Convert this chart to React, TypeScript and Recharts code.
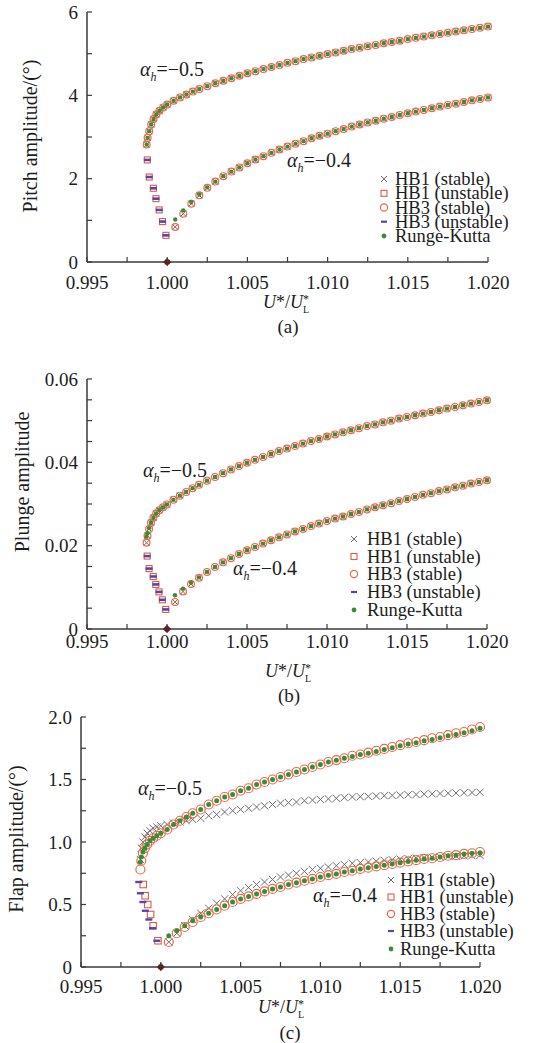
import React from 'react';
import { ScatterChart, Scatter, XAxis, YAxis } from 'recharts';

const FONT = '"Liberation Serif", "Times New Roman", serif';
const AXIS = '#3a3a3a';
const TEXT = '#1c1c1c';
const C_HB1S = '#6e6e6e';
const C_HB1U = '#dc5a4a';
const C_HB3S = '#ee6848';
const C_HB3U = '#5646a8';
const C_RK = '#3a8c3a';
const C_BIF = '#5a2020';

// ---------- shared axis ticks ----------
const xTicks = [0.995, 0.9975, 1.0, 1.0025, 1.005, 1.0075, 1.01, 1.0125, 1.015, 1.0175, 1.02];
const xTickLabels = ['0.995', '', '1.000', '', '1.005', '', '1.010', '', '1.015', '', '1.020'];

const aYTicks = [0, 1, 2, 3, 4, 5, 6];
const aYLabels = ['0', '', '2', '', '4', '', '6'];
const bYTicks = [0, 0.005, 0.01, 0.015, 0.02, 0.025, 0.03, 0.035, 0.04, 0.045, 0.05, 0.055, 0.06];
const bYLabels = ['0', '', '', '', '0.02', '', '', '', '0.04', '', '', '', '0.06'];
const cYTicks = [0, 0.25, 0.5, 0.75, 1.0, 1.25, 1.5, 1.75, 2.0];
const cYLabels = ['0', '', '0.5', '', '1.0', '', '1.5', '', '2.0'];

// ---------- speed ratio values (U*/U*_L) ----------
const upX = [0.99872, 0.99878, 0.99888, 0.999, 0.99915, 0.99932, 0.99952, 0.99975, 1.0, 1.0004,
  1.0008, 1.0012, 1.0016, 1.002, 1.0025, 1.003, 1.0035, 1.004, 1.0045, 1.005,
  1.0055, 1.006, 1.0065, 1.007, 1.0075, 1.008, 1.0085, 1.009, 1.0095, 1.01,
  1.0105, 1.011, 1.0115, 1.012, 1.0125, 1.013, 1.0135, 1.014, 1.0145, 1.015,
  1.0155, 1.016, 1.0165, 1.017, 1.0175, 1.018, 1.0185, 1.019, 1.0195, 1.02];
const lowX = [1.0005, 1.001, 1.0015, 1.002, 1.0025, 1.003, 1.0035, 1.004, 1.0045, 1.005,
  1.0055, 1.006, 1.0065, 1.007, 1.0075, 1.008, 1.0085, 1.009, 1.0095, 1.01,
  1.0105, 1.011, 1.0115, 1.012, 1.0125, 1.013, 1.0135, 1.014, 1.0145, 1.015,
  1.0155, 1.016, 1.0165, 1.017, 1.0175, 1.018, 1.0185, 1.019, 1.0195, 1.02];
const unstX = [0.99876, 0.99888, 0.99914, 0.9993, 0.9995, 0.99971, 0.99992];
const bifX = [1.0];
const bifY = [0];

// ---------- (a) pitch amplitude ----------
const aUpY = [2.82, 2.98, 3.14, 3.30, 3.43, 3.54, 3.63, 3.71, 3.78, 3.87,
  3.95, 4.02, 4.09, 4.15, 4.22, 4.29, 4.35, 4.41, 4.47, 4.53,
  4.58, 4.63, 4.68, 4.73, 4.78, 4.82, 4.87, 4.91, 4.95, 4.99,
  5.03, 5.07, 5.11, 5.14, 5.18, 5.21, 5.25, 5.28, 5.31, 5.35,
  5.38, 5.41, 5.44, 5.47, 5.50, 5.53, 5.56, 5.59, 5.62, 5.65];
const aLowY = [0.84, 1.16, 1.40, 1.60, 1.78, 1.93, 2.06, 2.17, 2.27, 2.37,
  2.46, 2.54, 2.62, 2.70, 2.77, 2.84, 2.90, 2.97, 3.03, 3.08,
  3.14, 3.19, 3.25, 3.30, 3.35, 3.39, 3.44, 3.48, 3.53, 3.57,
  3.61, 3.65, 3.69, 3.73, 3.77, 3.80, 3.84, 3.88, 3.91, 3.95];
const aLowRkY = [1.02, 1.24, 1.44, 1.62, 1.79, 1.93, 2.06, 2.17, 2.27, 2.37,
  2.46, 2.54, 2.62, 2.70, 2.77, 2.84, 2.90, 2.97, 3.03, 3.08,
  3.14, 3.19, 3.25, 3.30, 3.35, 3.39, 3.44, 3.48, 3.53, 3.57,
  3.61, 3.65, 3.69, 3.73, 3.77, 3.80, 3.84, 3.88, 3.91, 3.95];
const aUnstY = [2.45, 2.04, 1.77, 1.52, 1.25, 0.97, 0.64];

// ---------- (b) plunge amplitude ----------
const bUpY = [0.0207, 0.0224, 0.0240, 0.0255, 0.0267, 0.0277, 0.0285, 0.0292, 0.0299, 0.0310,
  0.0320, 0.0329, 0.0338, 0.0346, 0.0356, 0.0365, 0.0374, 0.0383, 0.0391, 0.0399,
  0.0406, 0.0413, 0.0420, 0.0427, 0.0433, 0.0439, 0.0445, 0.0451, 0.0456, 0.0462,
  0.0467, 0.0472, 0.0477, 0.0482, 0.0487, 0.0491, 0.0496, 0.0500, 0.0505, 0.0509,
  0.0513, 0.0517, 0.0521, 0.0525, 0.0529, 0.0533, 0.0537, 0.0541, 0.0545, 0.0549];
const bUpRkY = [0.0222, 0.0230, 0.0242, 0.0255, 0.0267, 0.0277, 0.0285, 0.0292, 0.0299, 0.0310,
  0.0320, 0.0329, 0.0338, 0.0346, 0.0356, 0.0365, 0.0374, 0.0383, 0.0391, 0.0399,
  0.0406, 0.0413, 0.0420, 0.0427, 0.0433, 0.0439, 0.0445, 0.0451, 0.0456, 0.0462,
  0.0467, 0.0472, 0.0477, 0.0482, 0.0487, 0.0491, 0.0496, 0.0500, 0.0505, 0.0509,
  0.0513, 0.0517, 0.0521, 0.0525, 0.0529, 0.0533, 0.0537, 0.0541, 0.0545, 0.0549];
const bLowY = [0.0065, 0.0090, 0.0108, 0.0123, 0.0137, 0.0149, 0.0160, 0.0170, 0.0180, 0.0189,
  0.0197, 0.0205, 0.0213, 0.0220, 0.0227, 0.0234, 0.0240, 0.0247, 0.0253, 0.0259,
  0.0265, 0.0270, 0.0276, 0.0281, 0.0287, 0.0292, 0.0297, 0.0302, 0.0307, 0.0312,
  0.0317, 0.0322, 0.0326, 0.0331, 0.0335, 0.0340, 0.0344, 0.0349, 0.0353, 0.0357];
const bLowRkY = [0.0081, 0.0097, 0.0111, 0.0124, 0.0137, 0.0149, 0.0160, 0.0170, 0.0180, 0.0189,
  0.0197, 0.0205, 0.0213, 0.0220, 0.0227, 0.0234, 0.0240, 0.0247, 0.0253, 0.0259,
  0.0265, 0.0270, 0.0276, 0.0281, 0.0287, 0.0292, 0.0297, 0.0302, 0.0307, 0.0312,
  0.0317, 0.0322, 0.0326, 0.0331, 0.0335, 0.0340, 0.0344, 0.0349, 0.0353, 0.0357];
const bUnstY = [0.0175, 0.0145, 0.0126, 0.0107, 0.0089, 0.0070, 0.0047];

// ---------- (c) flap amplitude ----------
const cUpHb3Y = [0.78, 0.85, 0.91, 0.95, 0.98, 1.01, 1.03, 1.05, 1.07, 1.10,
  1.14, 1.17, 1.20, 1.23, 1.26, 1.30, 1.33, 1.36, 1.38, 1.41,
  1.43, 1.46, 1.48, 1.50, 1.52, 1.54, 1.56, 1.58, 1.60, 1.62,
  1.64, 1.655, 1.67, 1.69, 1.70, 1.715, 1.73, 1.745, 1.76, 1.775,
  1.79, 1.80, 1.815, 1.83, 1.84, 1.855, 1.87, 1.88, 1.90, 1.92];
const cUpRkY = [0.84, 0.88, 0.92, 0.95, 0.98, 1.01, 1.03, 1.05, 1.07, 1.10,
  1.14, 1.17, 1.20, 1.23, 1.26, 1.30, 1.33, 1.36, 1.38, 1.41,
  1.43, 1.46, 1.48, 1.50, 1.52, 1.54, 1.56, 1.58, 1.60, 1.62,
  1.64, 1.655, 1.67, 1.685, 1.70, 1.71, 1.725, 1.74, 1.755, 1.77,
  1.785, 1.795, 1.81, 1.82, 1.835, 1.85, 1.86, 1.875, 1.89, 1.91];
const cUpHb1Y = [0.86, 0.95, 1.00, 1.04, 1.07, 1.09, 1.11, 1.12, 1.13, 1.14,
  1.15, 1.16, 1.17, 1.18, 1.19, 1.21, 1.22, 1.24, 1.25, 1.26,
  1.27, 1.28, 1.29, 1.30, 1.31, 1.315, 1.32, 1.33, 1.335, 1.34,
  1.345, 1.35, 1.355, 1.36, 1.362, 1.365, 1.368, 1.37, 1.373, 1.375,
  1.378, 1.38, 1.383, 1.385, 1.388, 1.39, 1.392, 1.394, 1.396, 1.398];
const cLowHb3Y = [0.20, 0.27, 0.32, 0.36, 0.40, 0.43, 0.46, 0.49, 0.52, 0.545,
  0.565, 0.585, 0.605, 0.625, 0.64, 0.66, 0.675, 0.69, 0.705, 0.72,
  0.735, 0.745, 0.76, 0.77, 0.785, 0.795, 0.805, 0.815, 0.825, 0.835,
  0.845, 0.855, 0.865, 0.87, 0.88, 0.89, 0.895, 0.905, 0.91, 0.92];
const cLowRkY = [0.25, 0.29, 0.33, 0.37, 0.40, 0.43, 0.46, 0.49, 0.52, 0.545,
  0.565, 0.585, 0.605, 0.625, 0.64, 0.66, 0.675, 0.69, 0.705, 0.72,
  0.735, 0.745, 0.76, 0.77, 0.785, 0.795, 0.805, 0.815, 0.825, 0.835,
  0.845, 0.855, 0.865, 0.87, 0.88, 0.89, 0.895, 0.905, 0.91, 0.915];
const cLowHb1Y = [0.20, 0.27, 0.33, 0.38, 0.43, 0.47, 0.51, 0.545, 0.58, 0.61,
  0.635, 0.66, 0.68, 0.70, 0.72, 0.735, 0.75, 0.765, 0.78, 0.79,
  0.80, 0.81, 0.82, 0.83, 0.835, 0.84, 0.847, 0.853, 0.858, 0.863,
  0.867, 0.871, 0.875, 0.878, 0.881, 0.884, 0.887, 0.889, 0.891, 0.893];
const cUnstHb3X = [0.99862, 0.99872, 0.99888, 0.99903, 0.99925, 0.99948, 0.99975];
const cUnstHb3Y = [0.68, 0.59, 0.52, 0.45, 0.38, 0.31, 0.21];
const cUnstHb1X = [0.9989, 0.99902, 0.99918, 0.99936, 0.99952, 0.99982];
const cUnstHb1Y = [0.66, 0.57, 0.50, 0.42, 0.33, 0.21];

const legendNames = ['HB1 (stable)', 'HB1 (unstable)', 'HB3 (stable)', 'HB3 (unstable)', 'Runge-Kutta'];

type Kind = 'cross' | 'square' | 'circle' | 'dash' | 'rk' | 'bif';
const legendKinds: Kind[] = ['cross', 'square', 'circle', 'dash', 'rk'];
type Sizes = { cross: number; square: number; circle: number; dashW: number; dashH: number; rk: number };
type Pt = { x: number; y: number };
type SeriesDef = { kind: Kind; pts: Pt[] };

const pts = (xs: number[], ys: number[]): Pt[] => xs.map((x, i) => ({ x, y: ys[i] }));

function drawMarker(kind: Kind, cx: number, cy: number, sz: Sizes) {
  if (cx == null || cy == null || isNaN(cx) || isNaN(cy)) return <g />;
  switch (kind) {
    case 'cross': {
      const s = sz.cross;
      return <path d={`M${cx - s},${cy - s}L${cx + s},${cy + s}M${cx - s},${cy + s}L${cx + s},${cy - s}`} stroke={C_HB1S} strokeWidth={1} fill="none" />;
    }
    case 'square': {
      const s = sz.square;
      return <rect x={cx - s / 2} y={cy - s / 2} width={s} height={s} stroke={C_HB1U} strokeWidth={1.1} fill="none" />;
    }
    case 'circle':
      return <circle cx={cx} cy={cy} r={sz.circle} stroke={C_HB3S} strokeWidth={1.2} fill="none" />;
    case 'dash':
      return <rect x={cx - sz.dashW / 2} y={cy - sz.dashH / 2} width={sz.dashW} height={sz.dashH} fill={C_HB3U} />;
    case 'rk':
      return <circle cx={cx} cy={cy} r={sz.rk} fill={C_RK} />;
    default:
      return (
        <g>
          <circle cx={cx} cy={cy} r={3} fill={C_BIF} />
          <path d={`M${cx - 4},${cy}L${cx + 4},${cy}M${cx},${cy - 4}L${cx},${cy + 4}`} stroke={C_BIF} strokeWidth={1.2} />
        </g>
      );
  }
}

const makeXTick = (gap: number) => (p: any) => {
  const { x, y, index } = p;
  const lab = xTickLabels[index] || '';
  return (
    <g>
      <line x1={x} x2={x} y1={y} y2={y - 5} stroke={AXIS} strokeWidth={1.2} />
      {lab ? (
        <text x={x} y={y + gap} textAnchor="middle" fontFamily={FONT} fontSize={19} fill={TEXT}>{lab}</text>
      ) : null}
    </g>
  );
};

const makeYTick = (labels: string[]) => (p: any) => {
  const { x, y, index } = p;
  const lab = labels[index] || '';
  return (
    <g>
      <line x1={x} x2={x + 5} y1={y} y2={y} stroke={AXIS} strokeWidth={1.2} />
      {lab ? (
        <text x={x - 9} y={y} dy="0.35em" textAnchor="end" fontFamily={FONT} fontSize={19} fill={TEXT}>{lab}</text>
      ) : null}
    </g>
  );
};

type PanelProps = {
  top: number; height: number; left: number; right: number; plotTop: number; plotBottom: number;
  yDomain: [number, number]; yTicks: number[]; yLabels: string[]; xGap: number; sz: Sizes; series: SeriesDef[];
};

function Panel(props: PanelProps) {
  const { top, height, left, right, plotTop, plotBottom, sz } = props;
  const margin = { top: plotTop - top, left: left - 40, right: 545 - right, bottom: top + height - plotBottom - 30 };
  return (
    <div style={{ position: 'absolute', left: 0, top, width: 545, height }}>
      <ScatterChart width={545} height={height} margin={margin}>
        <XAxis type="number" dataKey="x" domain={[0.995, 1.02]} ticks={xTicks} interval={0} height={30}
          tickSize={0} tickMargin={0} tickLine={false} axisLine={{ stroke: AXIS, strokeWidth: 1.5 }}
          tick={makeXTick(props.xGap)} />
        <YAxis type="number" dataKey="y" domain={props.yDomain} ticks={props.yTicks} interval={0} width={40}
          tickSize={0} tickMargin={0} tickLine={false} axisLine={{ stroke: AXIS, strokeWidth: 1.5 }}
          tick={makeYTick(props.yLabels)} />
        {props.series.map((s, i) => (
          <Scatter key={i} data={s.pts} isAnimationActive={false}
            shape={(p: any) => drawMarker(s.kind, p.cx, p.cy, sz)} />
        ))}
      </ScatterChart>
    </div>
  );
}

const sizeAB: Sizes = { cross: 3, square: 6, circle: 3.4, dashW: 7, dashH: 2.6, rk: 2.2 };
const sizeC: Sizes = { cross: 3.6, square: 6.5, circle: 4.5, dashW: 7, dashH: 2.4, rk: 2.5 };
const sizeLeg: Sizes = { cross: 3, square: 6, circle: 3.6, dashW: 6, dashH: 2.2, rk: 2.4 };

const seriesA: SeriesDef[] = [
  { kind: 'cross', pts: pts(upX, aUpY) }, { kind: 'cross', pts: pts(lowX, aLowY) },
  { kind: 'square', pts: pts(unstX, aUnstY) },
  { kind: 'circle', pts: pts(upX, aUpY) }, { kind: 'circle', pts: pts(lowX, aLowY) },
  { kind: 'dash', pts: pts(unstX, aUnstY) },
  { kind: 'rk', pts: pts(upX, aUpY) }, { kind: 'rk', pts: pts(lowX, aLowRkY) },
  { kind: 'bif', pts: pts(bifX, bifY) },
];
const seriesB: SeriesDef[] = [
  { kind: 'cross', pts: pts(upX, bUpY) }, { kind: 'cross', pts: pts(lowX, bLowY) },
  { kind: 'square', pts: pts(unstX, bUnstY) },
  { kind: 'circle', pts: pts(upX, bUpY) }, { kind: 'circle', pts: pts(lowX, bLowY) },
  { kind: 'dash', pts: pts(unstX, bUnstY) },
  { kind: 'rk', pts: pts(upX, bUpRkY) }, { kind: 'rk', pts: pts(lowX, bLowRkY) },
  { kind: 'bif', pts: pts(bifX, bifY) },
];
const seriesC: SeriesDef[] = [
  { kind: 'cross', pts: pts(upX, cUpHb1Y) }, { kind: 'cross', pts: pts(lowX, cLowHb1Y) },
  { kind: 'square', pts: pts(cUnstHb1X, cUnstHb1Y) },
  { kind: 'circle', pts: pts(upX, cUpHb3Y) }, { kind: 'circle', pts: pts(lowX, cLowHb3Y) },
  { kind: 'dash', pts: pts(cUnstHb3X, cUnstHb3Y) },
  { kind: 'rk', pts: pts(upX, cUpRkY) }, { kind: 'rk', pts: pts(lowX, cLowRkY) },
  { kind: 'bif', pts: pts(bifX, bifY) },
];

function Legend({ mx, tx, baselines }: { mx: number; tx: number; baselines: number[] }) {
  return (
    <g>
      {legendNames.map((n, i) => (
        <g key={n}>
          {drawMarker(legendKinds[i], mx, baselines[i] - 6, sizeLeg)}
          <text x={tx} y={baselines[i]} fontFamily={FONT} fontSize={18.5} fill={TEXT}>{n}</text>
        </g>
      ))}
    </g>
  );
}

function Alpha({ x, y, v }: { x: number; y: number; v: string }) {
  return (
    <text x={x} y={y} fontFamily={FONT} fontSize={20} fill={TEXT}>
      <tspan fontStyle="italic">α</tspan>
      <tspan fontStyle="italic" fontSize={12} dy={5}>h</tspan>
      <tspan dy={-5}>{'=\u2212' + v}</tspan>
    </text>
  );
}

function XLabel({ x, y }: { x: number; y: number }) {
  return (
    <text x={x} y={y} fontFamily={FONT} fontSize={18} fill={TEXT}>
      <tspan fontStyle="italic">U</tspan>
      <tspan>*/</tspan>
      <tspan fontStyle="italic">U</tspan>
      <tspan fontSize={12} dy={-5}>*</tspan>
      <tspan fontSize={10} dx={-6} dy={10}>L</tspan>
    </text>
  );
}

function YLabel({ x, y, t }: { x: number; y: number; t: string }) {
  return (
    <text transform={`translate(${x},${y}) rotate(-90)`} textAnchor="middle" fontFamily={FONT} fontSize={20} fill={TEXT}>{t}</text>
  );
}

export default function App() {
  return (
    <div style={{ position: 'absolute', left: 0, top: 0, width: 545, height: 1043, background: '#fff', overflow: 'hidden' }}>
      <Panel top={0} height={300} left={87} right={488} plotTop={12} plotBottom={262}
        yDomain={[0, 6]} yTicks={aYTicks} yLabels={aYLabels} xGap={27} sz={sizeAB} series={seriesA} />
      <Panel top={340} height={330} left={87} right={487} plotTop={379} plotBottom={629}
        yDomain={[0, 0.06]} yTicks={bYTicks} yLabels={bYLabels} xGap={19} sz={sizeAB} series={seriesB} />
      <Panel top={690} height={320} left={81} right={480} plotTop={717} plotBottom={967}
        yDomain={[0, 2]} yTicks={cYTicks} yLabels={cYLabels} xGap={26} sz={sizeC} series={seriesC} />
      <svg width={545} height={1043} style={{ position: 'absolute', left: 0, top: 0, pointerEvents: 'none' }}>
        <YLabel x={37} y={136} t="Pitch amplitude/(°)" />
        <YLabel x={29} y={482} t="Plunge amplitude" />
        <YLabel x={23} y={839} t="Flap amplitude/(°)" />
        <Alpha x={140} y={76} v="0.5" />
        <Alpha x={287} y={167} v="0.4" />
        <Alpha x={143} y={477} v="0.5" />
        <Alpha x={233} y={575} v="0.4" />
        <Alpha x={138} y={795} v="0.5" />
        <Alpha x={313} y={902} v="0.4" />
        <XLabel x={263} y={308} />
        <XLabel x={265} y={677} />
        <XLabel x={258} y={1013} />
        <text x={288} y={333} textAnchor="middle" fontFamily={FONT} fontSize={19} fill={TEXT}>(a)</text>
        <text x={289} y={702} textAnchor="middle" fontFamily={FONT} fontSize={19} fill={TEXT}>(b)</text>
        <text x={290} y={1039} textAnchor="middle" fontFamily={FONT} fontSize={19} fill={TEXT}>(c)</text>
        <Legend mx={384} tx={395} baselines={[185, 199.3, 213.5, 227.7, 242]} />
        <Legend mx={354} tx={367} baselines={[545, 562.5, 580, 598, 616]} />
        <Legend mx={391} tx={400} baselines={[886, 903, 920, 937, 955]} />
      </svg>
    </div>
  );
}
